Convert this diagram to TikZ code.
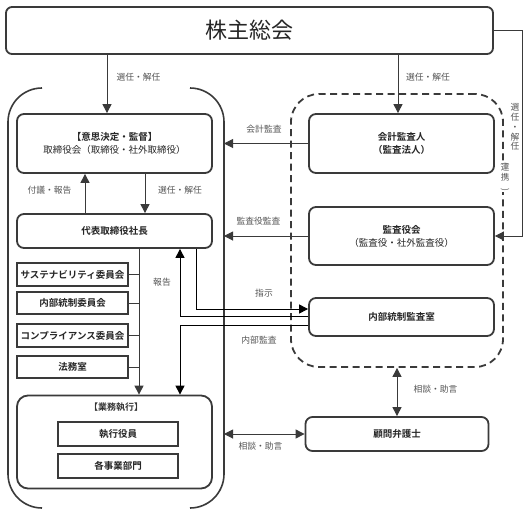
\documentclass[tikz,border=0pt]{standalone}
\usepackage{fontspec}
\setmainfont{Noto Sans CJK JP}[BoldFont={Noto Sans CJK JP Bold}]
\usetikzlibrary{arrows.meta}
\definecolor{boxline}{HTML}{3A3A3A}
\definecolor{lbltext}{HTML}{555555}
\tikzset{
	kbox/.style={draw=boxline,line width=1.8pt,rounded corners=7pt,fill=white,align=center,inner sep=0pt,
		font=\fontsize{9.5}{13}\selectfont\bfseries,text=black!85},
	sqbox/.style={kbox,sharp corners,line width=2.2pt},
	lbl/.style={text=lbltext,font=\fontsize{8.8}{10}\selectfont,inner sep=1pt},
	arr/.style={draw=boxline,line width=1pt,-{Triangle[length=9pt,width=9pt]}},
	arrk/.style={draw=black,line width=1pt,-{Triangle[length=9pt,width=9pt]}},
	arrb/.style={arr,{Triangle[length=9pt,width=9pt]}-{Triangle[length=9pt,width=9pt]}},
}
\begin{document}
\begin{tikzpicture}[x=1pt,y=-1pt]
		\useasboundingbox (0,0) rectangle (528,515);
		\coordinate (cA) at (107,0);
		\coordinate (cB) at (398,0);
		\coordinate (cC) at (85,0);
		\coordinate (cD) at (145,0);
		\coordinate (cE) at (139,0);
		\coordinate (cF) at (180,0);
		\coordinate (cG) at (196,0);
		\coordinate (cR) at (522,0);
		\coordinate (brR) at (224,0);
		\draw[boxline,line width=1.6pt,rounded corners=34pt] (42,88) -- (8,88) -- (8,508) -- (42,508);
		\draw[boxline,line width=1.6pt,rounded corners=34pt] (190,88) -- (224,88) -- (224,508) -- (190,508);
		\node[draw=boxline,line width=1.8pt,dash pattern=on 7pt off 4.5pt,rounded corners=28pt,
			minimum width=212pt,minimum height=273pt] (kansabox) at (397,230.5) {};
		\node[kbox,rounded corners=6pt,minimum width=487pt,minimum height=47pt,
			font=\fontsize{22}{24}\selectfont] (soukai) at (249.5,30.5) {株主総会};
		\node[kbox,minimum width=195pt,minimum height=59pt] (torishimari) at (114.5,143.5)
			{【意思決定・監督】\\\mdseries 取締役会（取締役・社外取締役）};
		\node[kbox,minimum width=195pt,minimum height=34pt] (daihyo) at (114.5,231) {代表取締役社長};
		\node[kbox,minimum width=185pt,minimum height=59pt] (kaikei) at (401.5,143.5) {会計監査人\\（監査法人）};
		\node[kbox,minimum width=185pt,minimum height=58pt] (kansayaku) at (401.5,236)
			{監査役会\\\mdseries（監査役・社外監査役）};
		\node[kbox,minimum width=185pt,minimum height=38pt] (naibu) at (401.5,317) {内部統制監査室};
		\node[kbox,minimum width=183pt,minimum height=34pt] (bengo) at (397,434) {顧問弁護士};
		\node[sqbox,minimum width=111pt,minimum height=23pt] (comm1) at (72.5,274.5) {サステナビリティ委員会};
		\node[sqbox,minimum width=111pt,minimum height=22pt] (comm2) at (72.5,303) {内部統制委員会};
		\node[sqbox,minimum width=111pt,minimum height=23pt] (comm3) at (72.5,335.5) {コンプライアンス委員会};
		\node[sqbox,minimum width=111pt,minimum height=22pt] (comm4) at (72.5,367) {法務室};
		\node[kbox,rounded corners=11pt,minimum width=195pt,minimum height=93pt] (gyomu) at (114.5,442) {};
		\node[font=\fontsize{9}{10}\selectfont\bfseries,text=black!80] (gyomutitle) at (116,407) {【業務執行】};
		\node[sqbox,minimum width=120pt,minimum height=24pt] (shikko) at (118,434) {執行役員};
		\node[sqbox,minimum width=120pt,minimum height=24pt] (jigyo) at (118,466) {各事業部門};
		\draw[arr] (soukai.south -| cA) -- (torishimari.north -| cA);
		\draw[arr] (soukai.south -| cB) -- (kaikei.north -| cB);
		\draw[arr] (daihyo.north -| cC) -- (torishimari.south -| cC);
		\draw[arr] (torishimari.south -| cD) -- (daihyo.north -| cD);
		\draw[arr] (kaikei.west) -- (kaikei.west -| brR);
		\draw[arr] (kansayaku.west) -- (kansayaku.west -| brR);
		\draw[arr,line width=0.8pt] (soukai.east) -- (soukai.east -| cR) -- (kansayaku.east -| cR) -- (kansayaku.east);
		\draw[arr] (daihyo.south -| cE) -- (gyomu.north -| cE);
		\foreach \c in {comm1,comm2,comm3,comm4}
			\draw[boxline,line width=1pt] (\c.east) -- (\c.east -| cE);
		\draw[arrk] (daihyo.south -| cG) |- ([yshift=8pt]naibu.west);
		\draw[arrk] ([yshift=1pt]naibu.west) -| (daihyo.south -| cF);
		\draw[arrk] ([yshift=-8pt]naibu.west) -| (gyomu.north -| cF);
		\draw[arrb] (bengo.west -| brR) -- (bengo.west);
		\draw[arrb] (kansabox.south) -- (bengo.north);
		\node[lbl] (l1) at (138.5,77) {選任・解任};
		\node[lbl] (l2) at (428,77) {選任・解任};
		\node[lbl] (l3) at (49.5,190) {付議・報告};
		\node[lbl] (l4) at (180,190) {選任・解任};
		\node[lbl] (l5) at (264,129) {会計監査};
		\node[lbl] (l6) at (258.5,221) {監査役監査};
		\node[lbl] (l7) at (162,282) {報告};
		\node[lbl] (l8) at (264,293) {指示};
		\node[lbl] (l9) at (259,340) {内部監査};
		\node[lbl] (l10) at (435.5,389) {相談・助言};
		\node[lbl] (l11) at (260.5,446) {相談・助言};
		\node[lbl,align=center,font=\fontsize{8.8}{9.8}\selectfont] (l12) at (515,127) {選\\任\\・\\解\\任};
		\node[lbl,fill=white,align=center,font=\fontsize{8.5}{9.5}\selectfont] (l13) at (505,177)
			{\rotatebox{-90}{(}\\[-3pt]連\\携\\[-1pt]\rotatebox{-90}{)}};
	\end{tikzpicture}
\end{document}
